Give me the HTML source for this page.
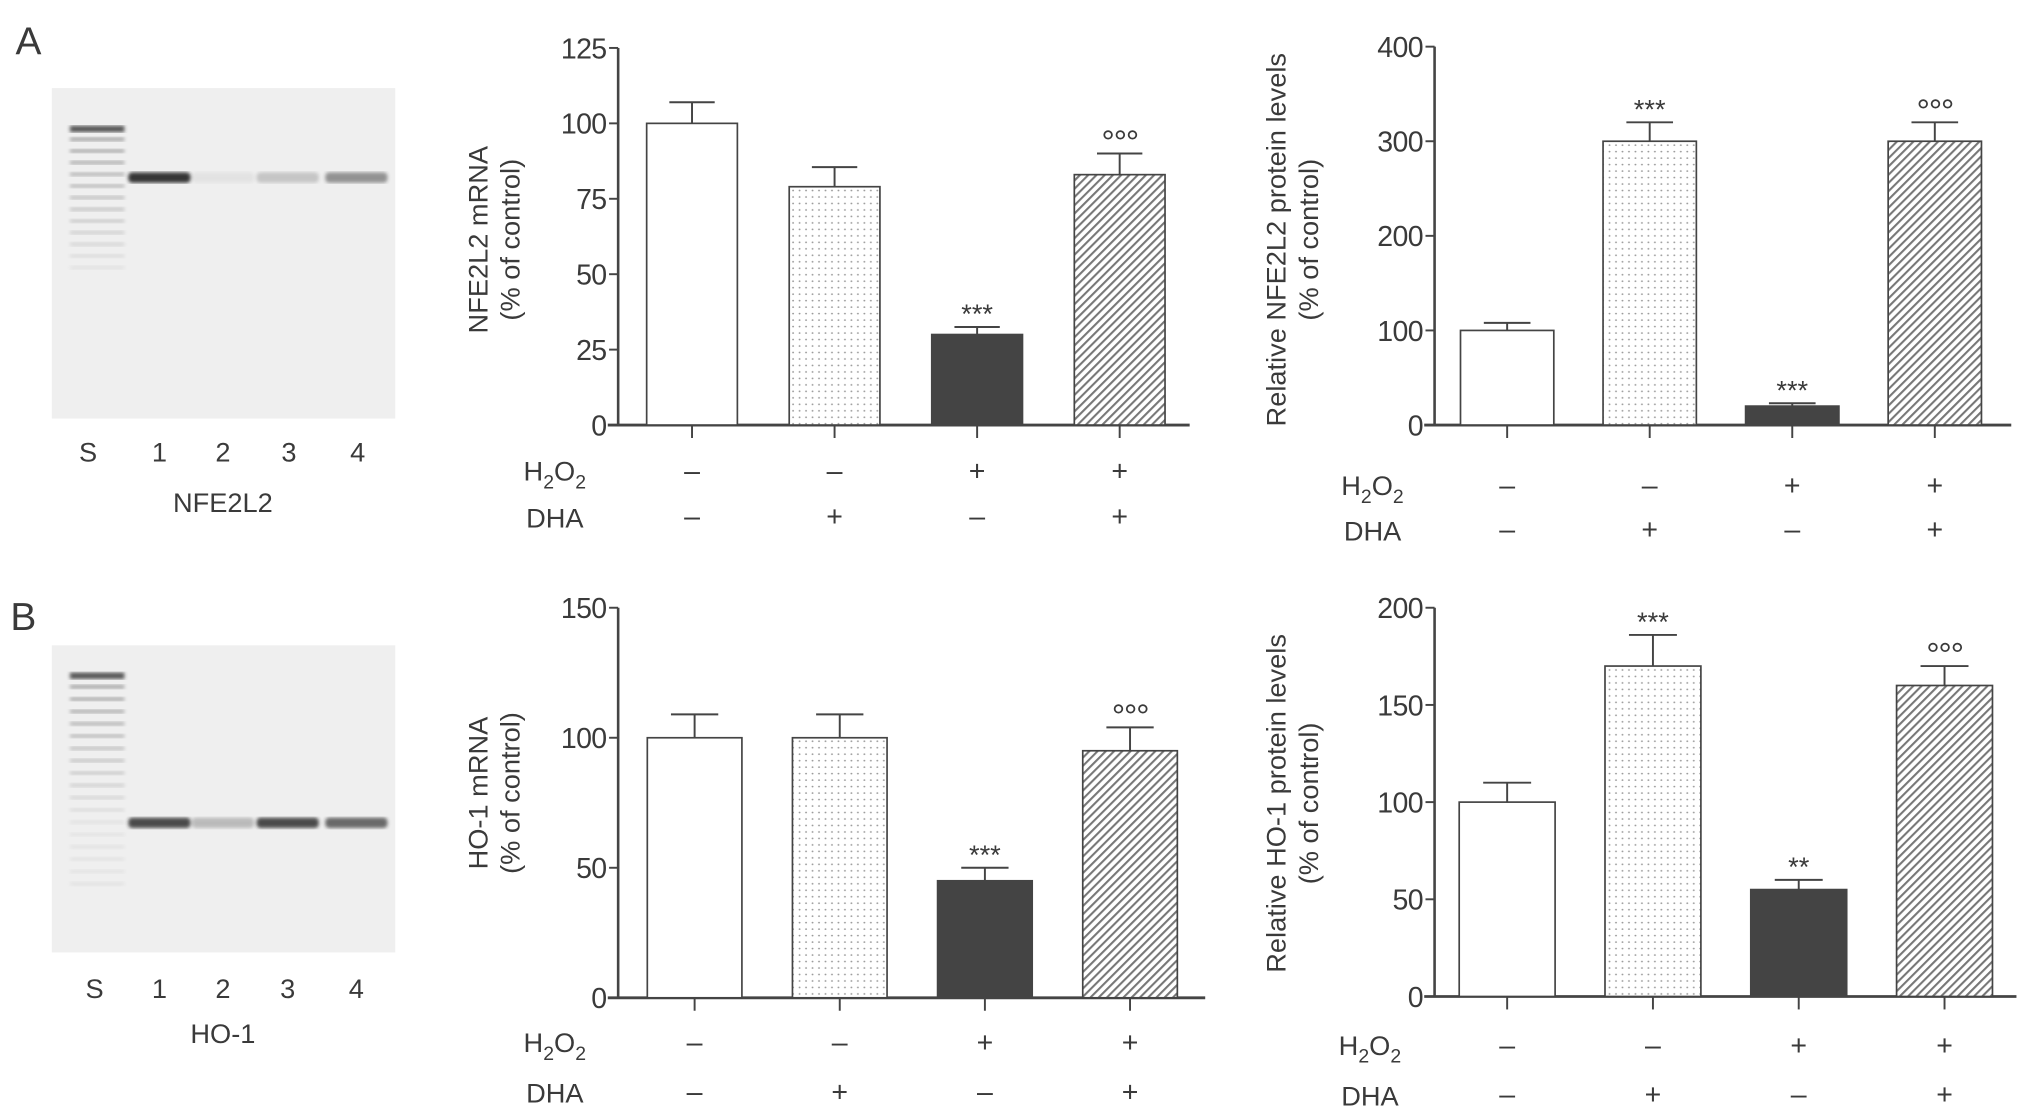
<!DOCTYPE html>
<html><head><meta charset="utf-8"><style>
html,body{margin:0;padding:0;background:#fff;}
svg{display:block;}
text{font-family:"Liberation Sans",sans-serif;fill:#3a3a3a;}
</style></head><body>
<svg id="fig" width="2032" height="1117" viewBox="0 0 1568 862" preserveAspectRatio="none" xmlns="http://www.w3.org/2000/svg">
<defs>
<pattern id="dots" width="5" height="5" patternUnits="userSpaceOnUse"><rect width="5" height="5" fill="#fff"/><circle cx="2" cy="2" r="0.7" fill="#999"/></pattern>
<pattern id="hatch" width="4.5" height="4.5" patternUnits="userSpaceOnUse" patternTransform="rotate(45)"><rect width="4.5" height="4.5" fill="#fff"/><rect width="1.6" height="4.5" fill="#777"/></pattern>
<filter id="blur"><feGaussianBlur stdDeviation="1.4"/></filter>
</defs>
<text x="12" y="42" font-size="30">A</text>
<text x="8" y="486" font-size="30">B</text>
<g id="gels"></g>
<g id="charts"></g>
</svg>
<script>
// Chart data
const categories = ["Control", "DHA", "H2O2", "H2O2+DHA"];
const h2o2Signs = ["–", "–", "+", "+"];
const dhaSigns = ["–", "+", "–", "+"];
const nfeMrnaValues = [100, 79, 30, 83];
const nfeMrnaErrors = [7, 6.5, 2.5, 7];
const nfeMrnaMarks = ["", "", "***", "°°°"];
const nfeMrnaTicks = [0, 25, 50, 75, 100, 125];
const nfeProtValues = [100, 300, 20, 300];
const nfeProtErrors = [8, 20, 3, 20];
const nfeProtMarks = ["", "***", "***", "°°°"];
const nfeProtTicks = [0, 100, 200, 300, 400];
const hoMrnaValues = [100, 100, 45, 95];
const hoMrnaErrors = [9, 9, 5, 9];
const hoMrnaMarks = ["", "", "***", "°°°"];
const hoMrnaTicks = [0, 50, 100, 150];
const hoProtValues = [100, 170, 55, 160];
const hoProtErrors = [10, 16, 5, 10];
const hoProtMarks = ["", "***", "**", "°°°"];
const hoProtTicks = [0, 50, 100, 150, 200];

const NS = "http://www.w3.org/2000/svg";
function mk(tag, attrs, parent, txt) {
  const e = document.createElementNS(NS, tag);
  for (const k in attrs) e.setAttribute(k, attrs[k]);
  if (txt !== undefined) e.textContent = txt;
  parent.appendChild(e);
  return e;
}
const fills = ["#fff", "url(#dots)", "#444", "url(#hatch)"];

function chart(cfg) {
  const g = mk("g", {}, document.getElementById("charts"));
  
  
  const max = cfg.ticks[cfg.ticks.length - 1];
  const y = v => cfg.y0 - (v / max) * (cfg.y0 - cfg.yTop);
  const x = i => cfg.c0 + i * cfg.step;
  const ya = mk("line", {x1: cfg.ax, x2: cfg.ax, y1: cfg.yTop, y2: cfg.y0, stroke: "#444", "stroke-width": 2}, g);
  
  
  const xa = mk("line", {x1: cfg.ax - 8, x2: cfg.xEnd, y1: cfg.y0, y2: cfg.y0, stroke: "#444", "stroke-width": 2.2}, g);
  
  
  cfg.ticks.forEach(t => {
    mk("line", {x1: cfg.ax - 7, x2: cfg.ax, y1: y(t), y2: y(t), stroke: "#444", "stroke-width": 1.5}, g);
    const tl = mk("text", {x: cfg.ax - 9, y: y(t) + 8, "font-size": 22, "text-anchor": "end", "letter-spacing": -0.5}, g, t);
    
    
  });
  const lab = mk("text", {transform: `translate(${cfg.labX},${cfg.labY}) rotate(-90)`, "font-size": 21, "text-anchor": "middle"}, g);
  
  
  mk("tspan", {x: 0, dy: 0}, lab, cfg.label);
  mk("tspan", {x: 0, dy: 25}, lab, "(% of control)");
  cfg.values.forEach((v, i) => {
    const cx = x(i), w = cfg.bw;
    const b = mk("rect", {x: cx - w / 2, y: y(v), width: w, height: cfg.y0 - y(v), fill: fills[i], stroke: "#444", "stroke-width": 1.3}, g);
    
    
    const e = cfg.errors[i];
    const eb = mk("path", {d: `M${cx},${y(v)}V${y(v + e)}M${cx - w / 4},${y(v + e)}H${cx + w / 4}`, stroke: "#444", "stroke-width": 1.5, fill: "none"}, g);
    
    
    if (cfg.marks[i]) {
      const deg = cfg.marks[i].startsWith("°");
      const m = mk("text", {x: cx, y: y(v + e) - (deg ? 0 : 3), "font-size": deg ? 26 : 21, "text-anchor": "middle", "letter-spacing": deg ? -1 : 0}, g, cfg.marks[i]);
      
      
    }
    mk("line", {x1: cx, x2: cx, y1: cfg.y0, y2: cfg.y0 + 10, stroke: "#444", "stroke-width": 1.5}, g);
    const s1 = mk("text", {x: cx, y: cfg.rowH + 7, "font-size": 22, "text-anchor": "middle", fill: "#555"}, g, h2o2Signs[i]);
    
    
    const s2 = mk("text", {x: cx, y: cfg.rowD + 7, "font-size": 22, "text-anchor": "middle", fill: "#555"}, g, dhaSigns[i]);
    
    
  });
  const h = mk("text", {x: cfg.rowX, y: cfg.rowH + 7, "font-size": 21}, g);
  
  
  mk("tspan", {}, h, "H");
  mk("tspan", {dy: 6, "font-size": 15}, h, "2");
  mk("tspan", {dy: -6}, h, "O");
  mk("tspan", {dy: 6, "font-size": 15}, h, "2");
  const d = mk("text", {x: cfg.rowX + 2, y: cfg.rowD + 8, "font-size": 21}, g, "DHA");
  
  
}

chart({name: "nfe2l2-mrna-chart", ax: 477, yTop: 37, y0: 328, xEnd: 918, c0: 534, step: 110, bw: 70, ticks: nfeMrnaTicks, values: nfeMrnaValues, errors: nfeMrnaErrors, marks: nfeMrnaMarks, label: "NFE2L2 mRNA", labX: 376, labY: 185, rowH: 364, rowD: 399, rowX: 404});
chart({name: "nfe2l2-protein-chart", ax: 1107, yTop: 36, y0: 328, xEnd: 1552, c0: 1163, step: 110, bw: 72, ticks: nfeProtTicks, values: nfeProtValues, errors: nfeProtErrors, marks: nfeProtMarks, label: "Relative NFE2L2 protein levels", labX: 992, labY: 185, rowH: 375, rowD: 409, rowX: 1035});
chart({name: "ho1-mrna-chart", ax: 477, yTop: 469, y0: 770, xEnd: 930, c0: 536, step: 112, bw: 73, ticks: hoMrnaTicks, values: hoMrnaValues, errors: hoMrnaErrors, marks: hoMrnaMarks, label: "HO-1 mRNA", labX: 376, labY: 612, rowH: 805, rowD: 843, rowX: 404});
chart({name: "ho1-protein-chart", ax: 1107, yTop: 469, y0: 769, xEnd: 1556, c0: 1163, step: 112.5, bw: 74, ticks: hoProtTicks, values: hoProtValues, errors: hoProtErrors, marks: hoProtMarks, label: "Relative HO-1 protein levels", labX: 992, labY: 620, rowH: 807, rowD: 845, rowX: 1033});

function gel(name, y0, h, bandY, bands, ladderTop, ladderN, ladderGap, labY, labX, title, titleY) {
  const g = mk("g", {}, document.getElementById("gels"));
  
  
  mk("rect", {x: 40, y: y0, width: 265, height: h, fill: "#efefef"}, g);
  for (let i = 0; i < ladderN; i++) {
    const op = i === 0 ? 0.8 : Math.max(0.06, 0.4 - i * 0.028);
    mk("rect", {x: 54, y: ladderTop + i * ladderGap, width: 42, height: i === 0 ? 5 : 3, fill: "#333", opacity: op, filter: "url(#blur)"}, g);
  }
  const lanes = [123, 172, 222, 275];
  bands.forEach((o, i) => {
    mk("rect", {x: lanes[i] - 24, y: bandY, width: 48, height: 8, rx: 3, fill: "#222", opacity: o, filter: "url(#blur)"}, g);
  });
  ["S", "1", "2", "3", "4"].forEach((t, i) => {
    const l = mk("text", {x: labX[i], y: labY, "font-size": 21, "text-anchor": "middle"}, g, t);
    
    
  });
  const tt = mk("text", {x: 172, y: titleY, "font-size": 21, "text-anchor": "middle"}, g, title);
  
  
}
gel("nfe2l2-gel", 68, 255, 133, [0.9, 0.06, 0.2, 0.45], 97, 13, 9, 356, [68, 123, 172, 223, 276], "NFE2L2", 395);
gel("ho1-gel", 498, 237, 631, [0.8, 0.25, 0.8, 0.65], 519, 18, 9.5, 770, [73, 123, 172, 222, 275], "HO-1", 805);
</script>
</body></html>
